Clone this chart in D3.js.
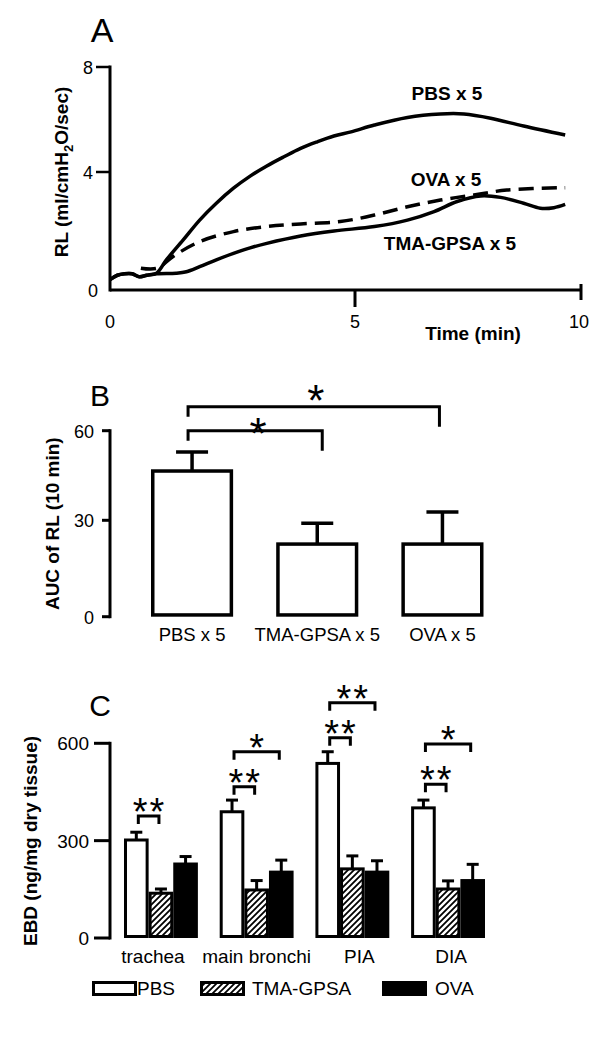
<!DOCTYPE html>
<html>
<head>
<meta charset="utf-8">
<script src="https://cdn.jsdelivr.net/npm/d3@7"></script>
<style>
  html, body { margin: 0; padding: 0; background: #fff; }
  svg { display: block; }
  text { font-family: "Liberation Sans", Arial, sans-serif; fill: #000; }
</style>
</head>
<body>
<svg id="chart" width="600" height="1037"></svg>
<script>
// ---------------- Panel A data ----------------
const pbsTime = [0,0.15,0.3,0.45,0.6,0.75,0.95,1.15,1.49,1.83,2.17,2.52,2.86,3.2,3.55,3.89,4.23,4.57,4.92,5.43,6.16,6.89,7.41,8.0,8.73,9.65];
const pbsRL   = [0.35,0.5,0.55,0.55,0.45,0.5,0.57,1.02,1.69,2.37,2.94,3.45,3.86,4.23,4.58,4.9,5.15,5.37,5.53,5.79,6.08,6.21,6.21,6.05,5.75,5.41];
const tmaTime = [0,0.15,0.3,0.45,0.6,0.75,0.95,1.35,1.56,1.83,2.17,2.52,2.86,3.2,3.89,4.57,5.43,6.16,6.75,7.26,7.78,8.22,8.73,9.1,9.4,9.65];
const tmaRL   = [0.35,0.5,0.55,0.55,0.45,0.5,0.55,0.57,0.62,0.79,1.02,1.24,1.43,1.58,1.83,2.0,2.15,2.37,2.66,3.0,3.19,3.14,2.94,2.77,2.79,2.9];
const ovaTime = [0.63,0.97,1.28,1.83,2.52,3.2,3.89,4.7,5.43,6.16,6.89,7.63,8.36,9.65];
const ovaRL   = [0.74,0.74,1.13,1.64,1.98,2.15,2.24,2.32,2.54,2.82,3.05,3.22,3.39,3.47];
const seriesLabelsA = ["PBS x 5", "OVA x 5", "TMA-GPSA x 5"];
const yTicksA = [0, 4, 8];
const xTicksA = [0, 5, 10];

// ---------------- Panel B data ----------------
const groupsB = ["PBS x 5", "TMA-GPSA x 5", "OVA x 5"];
const aucMean = [46.5, 22.6, 22.6];
const aucErr  = [6.4, 6.5, 10.2];
const yTicksB = [0, 30, 60];
const sigBFrom  = [0, 0];
const sigBTo    = [1, 2];
const sigBLevel = [60, 68];
const sigBLabel = ["*", "*"];

// ---------------- Panel C data ----------------
const tissues = ["trachea", "main bronchi", "PIA", "DIA"];
const treatments = ["PBS", "TMA-GPSA", "OVA"];
const ebdPBS = [302, 389, 538, 401];
const ebdPBSErr = [24, 36, 36, 24];
const ebdTMA = [138, 148, 213, 151];
const ebdTMAErr = [13, 29, 40, 25];
const ebdOVA = [228, 203, 203, 177];
const ebdOVAErr = [23, 37, 35, 50];
const yTicksC = [0, 300, 600];
const sigCGroup = [0, 1, 1, 2, 2, 3, 3];
const sigCFrom  = [0, 0, 0, 0, 0, 0, 0];
const sigCTo    = [1, 1, 2, 1, 2, 1, 2];
const sigCLevel = [376, 466, 574, 617, 725, 474, 598];
const sigCLabel = ["**", "**", "*", "**", "**", "**", "*"];

// ================= Drawing =================
const svg = d3.select("#chart");
svg.append("rect").attr("width", 600).attr("height", 1037).attr("fill", "#fff");

const defs = svg.append("defs");
const pat = defs.append("pattern").attr("id", "hatch")
  .attr("patternUnits", "userSpaceOnUse").attr("width", 6).attr("height", 6);
pat.append("rect").attr("width", 6).attr("height", 6).attr("fill", "#fff");
pat.append("path").attr("d", "M-1,1 l2,-2 M0,6 l6,-6 M5,7 l2,-2")
  .attr("stroke", "#000").attr("stroke-width", 1.8);

const fillFor = ["#fff", "url(#hatch)", "#000"];
const FS = 19;

// ---------- Panel A ----------
const gA = svg.append("g");
const xA = d3.scaleLinear().domain([0, 5, 10]).range([110, 355, 581]);
const yA = d3.scaleLinear().domain([0, 4, 8]).range([290, 172, 67]);

gA.append("text").attr("x", 102).attr("y", 42).attr("text-anchor", "middle")
  .attr("font-size", 34).text("A");

gA.append("line").attr("x1", xA(0)).attr("x2", xA(0)).attr("y1", yA(8) - 1.5).attr("y2", yA(0) + 1.5)
  .attr("stroke", "#000").attr("stroke-width", 3);
yTicksA.forEach(v => {
  if (v > 0) gA.append("line").attr("x1", xA(0) - 14).attr("x2", xA(0)).attr("y1", yA(v)).attr("y2", yA(v))
    .attr("stroke", "#000").attr("stroke-width", 2.5);
  gA.append("text").attr("x", v === 0 ? 98 : 93).attr("y", yA(v) + 7).attr("text-anchor", "end")
    .attr("font-size", 18).text(v);
});
gA.append("line").attr("x1", xA(0)).attr("x2", xA(10)).attr("y1", yA(0)).attr("y2", yA(0))
  .attr("stroke", "#000").attr("stroke-width", 3);
xTicksA.forEach(v => {
  if (v === 5) gA.append("line").attr("x1", xA(v)).attr("x2", xA(v)).attr("y1", yA(0)).attr("y2", yA(0) + 17)
    .attr("stroke", "#000").attr("stroke-width", 3);
  if (v === 10) gA.append("line").attr("x1", xA(v)).attr("x2", xA(v)).attr("y1", yA(0) - 6).attr("y2", yA(0) + 10)
    .attr("stroke", "#000").attr("stroke-width", 3);
  gA.append("text").attr("x", v === 10 ? xA(v) - 2 : xA(v)).attr("y", 328).attr("text-anchor", "middle")
    .attr("font-size", 18).text(v);
});
gA.append("text").attr("x", 473).attr("y", 340).attr("text-anchor", "middle")
  .attr("font-size", FS).attr("font-weight", "bold").text("Time (min)");

const yLabA = gA.append("text").attr("transform", "translate(68,172) rotate(-90)")
  .attr("text-anchor", "middle").attr("font-size", FS).attr("font-weight", "bold");
yLabA.append("tspan").text("RL (ml/cmH");
yLabA.append("tspan").attr("font-size", 13).attr("dy", 5).text("2");
yLabA.append("tspan").attr("dy", -5).text("O/sec)");

const lineA = d3.line().x(d => xA(d[0])).y(d => yA(d[1])).curve(d3.curveCatmullRom.alpha(0.5));
gA.append("path").attr("d", lineA(d3.zip(pbsTime, pbsRL)))
  .attr("fill", "none").attr("stroke", "#000").attr("stroke-width", 3.5);
gA.append("path").attr("d", lineA(d3.zip(tmaTime, tmaRL)))
  .attr("fill", "none").attr("stroke", "#000").attr("stroke-width", 3.5);
gA.append("path").attr("d", lineA(d3.zip(ovaTime, ovaRL)))
  .attr("fill", "none").attr("stroke", "#000").attr("stroke-width", 3.5)
  .attr("stroke-dasharray", "15,8");

const labPosA = [[447, 100], [446, 186], [450, 250]];
seriesLabelsA.forEach((s, i) => {
  gA.append("text").attr("x", labPosA[i][0]).attr("y", labPosA[i][1]).attr("text-anchor", "middle")
    .attr("font-size", FS).attr("font-weight", "bold").text(s);
});

// ---------- Panel B ----------
const gB = svg.append("g");
const xB = d3.scaleBand().domain(groupsB).range([151, 483.5]).paddingInner(0.344);
const yB = d3.scaleLinear().domain([0, 30, 60]).range([616.7, 520.3, 430.7]);

gB.append("text").attr("x", 100).attr("y", 406).attr("text-anchor", "middle")
  .attr("font-size", 30).text("B");

gB.append("line").attr("x1", 110).attr("x2", 110).attr("y1", yB(60) - 1.5).attr("y2", yB(0) + 1.5)
  .attr("stroke", "#000").attr("stroke-width", 3);
yTicksB.forEach(v => {
  gB.append("line").attr("x1", 102).attr("x2", 110).attr("y1", yB(v)).attr("y2", yB(v))
    .attr("stroke", "#000").attr("stroke-width", 3);
  gB.append("text").attr("x", 94).attr("y", yB(v) + 7).attr("text-anchor", "end")
    .attr("font-size", 18).text(v);
});
gB.append("text").attr("transform", `translate(59,${(yB(0) + yB(60)) / 2}) rotate(-90)`)
  .attr("text-anchor", "middle").attr("font-size", FS).attr("font-weight", "bold")
  .text("AUC of RL (10 min)");

const swB = 3.5;
groupsB.forEach((g, i) => {
  const cx = xB(g) + xB.bandwidth() / 2;
  gB.append("line").attr("x1", cx).attr("x2", cx).attr("y1", yB(aucMean[i])).attr("y2", yB(aucMean[i] + aucErr[i]))
    .attr("stroke", "#000").attr("stroke-width", 3.5);
  gB.append("line").attr("x1", cx - 16).attr("x2", cx + 16)
    .attr("y1", yB(aucMean[i] + aucErr[i])).attr("y2", yB(aucMean[i] + aucErr[i]))
    .attr("stroke", "#000").attr("stroke-width", 3.5);
  gB.append("rect").attr("x", xB(g) + swB / 2).attr("y", yB(aucMean[i]))
    .attr("width", xB.bandwidth() - swB).attr("height", yB(0) - yB(aucMean[i]) - swB / 2)
    .attr("fill", "#fff").attr("stroke", "#000").attr("stroke-width", swB);
  gB.append("text").attr("x", cx).attr("y", 641).attr("text-anchor", "middle")
    .attr("font-size", 18.5).text(g);
});
sigBFrom.forEach((f, i) => {
  const x1 = xB(groupsB[f]) + xB.bandwidth() / 2 - 4;
  const x2 = xB(groupsB[sigBTo[i]]) + xB.bandwidth() / 2 + (sigBTo[i] === 1 ? 5 : -3);
  const y = yB(sigBLevel[i]);
  gB.append("path").attr("d", `M${x1},${y + 10}V${y}H${x2}V${y + 20}`)
    .attr("fill", "none").attr("stroke", "#000").attr("stroke-width", 3);
  gB.append("text").attr("x", (x1 + x2) / 2 + (i === 0 ? 3 : 2)).attr("y", y + (i === 0 ? 18 : 9))
    .attr("text-anchor", "middle").attr("font-size", 44).text(sigBLabel[i]);
});

// ---------- Panel C ----------
const gC = svg.append("g");
const xC = d3.scaleBand().domain(tissues).range([124, 485]).paddingInner(0.228);
const xSub = d3.scaleBand().domain(treatments).range([0, xC.bandwidth()]);
const yC = d3.scaleLinear().domain([0, 600]).range([938, 743.3]);
const means = [ebdPBS, ebdTMA, ebdOVA];
const errs = [ebdPBSErr, ebdTMAErr, ebdOVAErr];

gC.append("text").attr("x", 100).attr("y", 716).attr("text-anchor", "middle")
  .attr("font-size", 30).text("C");

gC.append("line").attr("x1", 110).attr("x2", 110).attr("y1", yC(600) - 1.5).attr("y2", yC(0) + 1.5)
  .attr("stroke", "#000").attr("stroke-width", 3);
yTicksC.forEach(v => {
  gC.append("line").attr("x1", 94).attr("x2", 110).attr("y1", yC(v)).attr("y2", yC(v))
    .attr("stroke", "#000").attr("stroke-width", 3);
  gC.append("text").attr("x", 89).attr("y", yC(v) + 7).attr("text-anchor", "end")
    .attr("font-size", 19).text(v);
});
gC.append("text").attr("transform", `translate(37,841) rotate(-90)`)
  .attr("text-anchor", "middle").attr("font-size", FS).attr("font-weight", "bold")
  .text("EBD (ng/mg dry tissue)");

const swC = 3;
tissues.forEach((t, gi) => {
  treatments.forEach((tr, ti) => {
    const x0 = xC(t) + xSub(tr);
    const w = xSub.bandwidth();
    const cx = x0 + w / 2;
    const m = means[ti][gi], e = errs[ti][gi];
    gC.append("line").attr("x1", cx).attr("x2", cx).attr("y1", yC(m)).attr("y2", yC(m + e))
      .attr("stroke", "#000").attr("stroke-width", 3);
    gC.append("line").attr("x1", cx - 6).attr("x2", cx + 6).attr("y1", yC(m + e)).attr("y2", yC(m + e))
      .attr("stroke", "#000").attr("stroke-width", 3);
    gC.append("rect").attr("x", x0 + swC / 2).attr("y", yC(m))
      .attr("width", w - swC).attr("height", yC(0) - yC(m) - swC / 2)
      .attr("fill", fillFor[ti]).attr("stroke", "#000").attr("stroke-width", swC);
  });
  gC.append("text").attr("x", xC(t) + xC.bandwidth() / 2 + [-8, 0, 7, 3][gi]).attr("y", 963)
    .attr("text-anchor", "middle").attr("font-size", 19).text(t);
});
sigCGroup.forEach((g, i) => {
  const t = tissues[g];
  const x1 = xC(t) + xSub(treatments[sigCFrom[i]]) + xSub.bandwidth() / 2 + 2;
  const x2 = xC(t) + xSub(treatments[sigCTo[i]]) + xSub.bandwidth() / 2 - 2;
  const y = yC(sigCLevel[i]);
  const two = sigCLabel[i].length > 1;
  gC.append("path").attr("d", `M${x1},${y + 8}V${y}H${x2}V${y + 8}`)
    .attr("fill", "none").attr("stroke", "#000").attr("stroke-width", 3);
  gC.append("text").attr("x", (x1 + x2) / 2 + (two ? 1 : 0)).attr("y", y + 9)
    .attr("text-anchor", "middle").attr("font-size", 38)
    .attr("letter-spacing", two ? 2 : 0).text(sigCLabel[i]);
});

// legend
const legBoxX = [92, 200, 382];
const legTextX = [137, 252, 435];
treatments.forEach((tr, i) => {
  gC.append("rect").attr("x", legBoxX[i] + 1.5).attr("y", 982.5).attr("width", 42).attr("height", 12)
    .attr("fill", fillFor[i]).attr("stroke", "#000").attr("stroke-width", 3);
  gC.append("text").attr("x", legTextX[i]).attr("y", 995).attr("font-size", 19).text(tr);
});
</script>
</body>
</html>
